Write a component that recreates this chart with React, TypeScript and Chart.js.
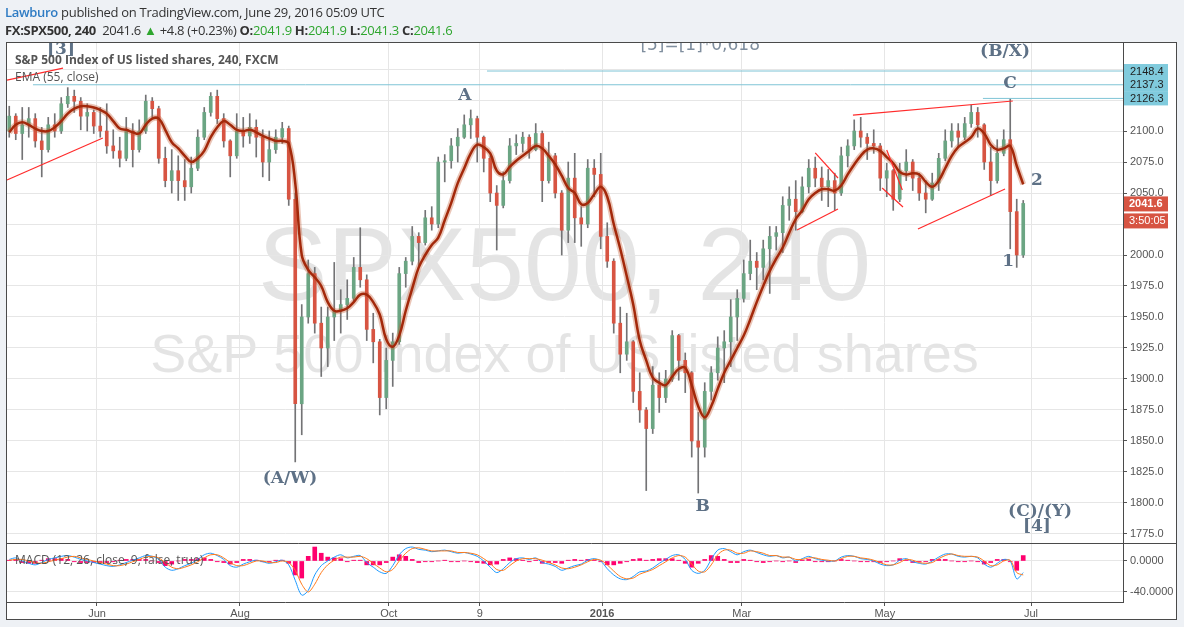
import React, { useEffect, useRef } from "react";
import { Chart, registerables } from "chart.js";
Chart.register(...registerables);

// ---- data: 2-trading-day candles, FX:SPX500 (Apr 2015 - Jun 29 2016) ----
const opens = [
  2100,2112,2098,2105,2110,2092,2085,2105,2100,2122, 2128,2124,2112,2115,2104,2100,2088,2084,2078,2100,
  2085,2100,2124,2118,2078,2060,2068,2060,2055,2070, 2095,2115,2128,2110,2092,2080,2100,2096,2103,2095,
  2075,2085,2095,2102,2045,1880,1950,1985,1945,1925, 1950,1955,1960,1965,1990,1980,1940,1930,1885,1915,
  1930,1985,1995,2015,2010,2030,2025,2075,2076,2088, 2095,2105,2110,2095,2078,2050,2040,2060,2088,2090,
  2095,2085,2098,2060,2080,2050,2020,2062,2030,2025, 2070,2065,2015,1995,1945,1920,1930,1890,1875,1860,
  1895,1885,1900,1935,1915,1905,1850,1845,1890,1905, 1925,1930,1950,1965,1985,1995,1990,2005,2015,2018,
  2040,2045,2035,2055,2070,2062,2055,2060,2050,2080, 2088,2100,2095,2090,2088,2062,2068,2045,2068,2075,
  2062,2050,2045,2058,2078,2092,2100,2095,2106,2115, 2105,2075,2060,2082,2093,2035,2000,
];
const highs = [
  2120,2114,2119,2119,2114,2103,2111,2114,2127,2135, 2133,2127,2122,2117,2119,2122,2101,2095,2111,2106,
  2109,2129,2127,2120,2087,2085,2080,2077,2079,2101, 2119,2131,2133,2114,2093,2114,2111,2114,2109,2101,
  2100,2101,2107,2104,2050,1960,1996,1990,1958,1958, 1994,1972,1980,1998,2022,1984,1953,1932,1925,1937,
  1990,1998,2023,2018,2036,2039,2079,2081,2094,2102, 2113,2117,2112,2096,2080,2056,2067,2094,2097,2099,
  2097,2106,2100,2091,2082,2052,2075,2082,2039,2077, 2077,2082,2026,1997,1958,1953,1931,1905,1877,1910,
  1905,1907,1939,1936,1921,1906,1873,1897,1910,1934, 1939,1964,1972,1996,2012,2002,2012,2023,2023,2047,
  2055,2060,2063,2077,2079,2071,2069,2066,2087,2093, 2109,2111,2098,2101,2090,2074,2069,2074,2085,2077,
  2066,2060,2066,2082,2101,2106,2106,2111,2121,2119, 2106,2087,2093,2101,2126,2045,2044,
];
const lows = [
  2095,2093,2077,2095,2087,2063,2083,2095,2098,2119, 2115,2101,2100,2098,2095,2082,2078,2071,2076,2071,
  2083,2098,2111,2074,2055,2050,2044,2044,2050,2068, 2093,2112,2106,2087,2063,2078,2087,2090,2079,2063,
  2060,2082,2090,2040,1833,1855,1945,1937,1902,1910, 1931,1937,1948,1962,1974,1931,1913,1871,1876,1894,
  1928,1974,1992,1990,2008,2020,2022,2059,2070,2075, 2094,2094,2075,2067,2043,2004,2038,2058,2081,2083,
  2078,2084,2043,2058,2046,2000,2010,2010,2007,2022, 2047,2005,1990,1937,1905,1915,1881,1865,1810,1856,
  1873,1881,1898,1899,1889,1837,1808,1837,1883,1899, 1897,1910,1931,1962,1980,1972,1980,1969,2004,2002,
  2028,2020,2034,2050,2055,2044,2039,2036,2048,2071, 2085,2087,2077,2082,2052,2047,2036,2043,2060,2052,
  2044,2034,2044,2052,2076,2087,2087,2093,2103,2095, 2069,2048,2058,2080,2005,1990,1998,
];
const closes = [
  2112,2098,2105,2110,2092,2085,2105,2100,2122,2128, 2124,2112,2115,2104,2100,2088,2084,2078,2100,2085,
  2100,2124,2118,2078,2060,2068,2060,2055,2070,2095, 2115,2128,2110,2092,2080,2100,2096,2103,2095,2075,
  2085,2095,2102,2045,1880,1950,1985,1945,1925,1950, 1955,1960,1965,1990,1980,1940,1930,1885,1915,1930,
  1985,1995,2015,2010,2030,2025,2075,2076,2088,2095, 2105,2110,2095,2078,2050,2040,2060,2088,2090,2095,
  2085,2098,2060,2080,2050,2020,2062,2030,2025,2070, 2065,2015,1995,1945,1920,1930,1890,1875,1860,1895,
  1885,1900,1935,1915,1905,1850,1845,1890,1905,1925, 1930,1950,1965,1985,1995,1990,2005,2015,2018,2040,
  2045,2035,2055,2070,2062,2055,2060,2050,2080,2088, 2100,2095,2090,2088,2062,2068,2045,2068,2075,2062,
  2050,2045,2058,2078,2092,2100,2095,2106,2115,2105, 2075,2060,2082,2093,2035,2000,2041.6,
];
const ema55 = [
  2099,2105,2107,2105,2102,2100,2100,2103,2108,2114, 2118,2120,2120,2119,2117,2114,2108,2102,2101,2099,
  2098,2105,2110,2110,2101,2091,2086,2080,2075,2078, 2084,2095,2103,2108,2105,2101,2100,2101,2099,2096,
  2094,2092,2092,2090,2058,2000,1988,1982,1975,1962, 1955,1955,1957,1962,1968,1968,1962,1952,1932,1926,
  1935,1955,1973,1990,2000,2008,2014,2028,2042,2058, 2070,2082,2089,2087,2082,2068,2065,2071,2076,2080,
  2084,2088,2086,2080,2073,2064,2054,2050,2041,2042, 2049,2055,2047,2025,2005,1983,1960,1931,1915,1901,
  1897,1895,1902,1908,1909,1895,1878,1869,1878,1892, 1905,1915,1925,1935,1948,1962,1975,1987,1997,2006,
  2018,2029,2036,2045,2050,2053,2053,2052,2056,2065, 2073,2080,2085,2086,2084,2079,2074,2067,2065,2066,
  2065,2059,2055,2060,2070,2080,2087,2091,2095,2102, 2098,2089,2085,2086,2088,2072,2057,
];
const macdLine = [
  2,4,0,-3,-5,-2,2,4,6,7, 5,2,0,-2,-4,-6,-7,-5,-2,1, 4,7,6,2,-8,-12,-10,-6,-3,2,
  8,10,7,2,-6,-8,-4,-1,1,-1, -3,-1,1,-5,-25,-44,-38,-18,-6,0, 5,8,4,6,7,-2,-8,-14,-16,-6,
  8,16,18,15,14,12,13,14,12,10, 11,9,6,0,-8,-15,-10,-2,3,4, 2,4,-2,-4,-7,-12,-9,-6,-4,1,
  3,0,-10,-18,-23,-24,-20,-14,-13,-9, -3,2,7,8,2,-12,-16,-12,2,14, 16,12,8,12,14,11,8,6,7,4,
  5,0,3,6,3,1,0,0,5,7, 6,3,2,0,-4,-6,-5,1,3,-1, -3,-4,0,5,9,9,6,5,6,4, -4,-8,-3,2,0,-23,-15,
];
const signalLine = [
  1,2,2,0,-2,-3,-1,1,3,5, 6,4,2,0,-2,-4,-6,-6,-4,-1, 2,5,6,4,-2,-8,-10,-8,-5,-1,
  4,8,8,4,-2,-6,-6,-3,0,0, -2,-2,0,-2,-12,-30,-40,-30,-15,-5, 1,5,5,5,6,3,-3,-9,-14,-11,
  0,10,16,17,15,13,13,13,13,11, 11,10,8,3,-3,-11,-12,-6,0,3, 3,3,1,-2,-5,-9,-10,-8,-5,-1,
  2,1,-5,-13,-20,-23,-22,-17,-14,-11, -6,-1,4,7,5,-4,-13,-14,-5,8, 14,14,10,10,13,12,10,7,7,5,
  5,2,2,4,4,2,1,0,3,6, 6,4,3,1,-2,-5,-5,-2,2,1, -2,-3,-2,3,7,9,7,6,6,5, 0,-6,-5,0,1,-15,-18,
];
const macdHist = [
  1,2,-2,-3,-3,1,3,3,3,2, -1,-2,-2,-2,-2,-2,-1,1,2,2, 2,2,0,-2,-6,-4,0,2,2,3,
  4,2,-1,-2,-4,-2,2,2,1,-1, -1,1,1,-3,-18,-22,6,18,10,5, 4,3,-1,1,1,-5,-5,-5,-2,5,
  8,6,2,-2,-1,-1,0,1,-1,-1, 0,-1,-2,-3,-5,-4,2,4,3,1, -1,1,-3,-2,-2,-3,1,2,1,2,
  1,-1,-5,-5,-3,-1,2,3,1,2, 3,3,3,1,-3,-8,-3,2,7,6, 2,-2,-2,2,1,-1,-2,-1,0,-1,
  0,-2,1,2,-1,-1,-1,0,2,1, 0,-1,-1,-1,-2,-1,0,3,1,-2, -1,-1,2,2,2,0,-1,-1,0,-1, -4,-2,2,2,-1,-12,7,
];

// time axis tick labels (positions in candle-index units)
const monthTickPos = [13.5, 35.5, 58.4, 72.4, 91.2, 112.7, 134.7, 157.2];
const monthTickLabels = ["Jun", "Aug", "Oct", "9", "2016", "Mar", "May", "Jul"];
const priceTicks = [1775,1800,1825,1850,1875,1900,1925,1950,1975,2000,2025,2050,2075,2100,2125,2150];
const macdTicks = [0, -40];

// drawings
const levelPrices = [2148.4, 2137.3, 2126.3];
const levelStartIdx = [73.5, 3.65, 149.8];
const lastPrice = 2041.6;
const trendLines = [
  [-0.35, 2060.5, 14.4, 2094.4],
  [-0.35, 2141, 8.27, 2150.8],
  [129.8, 2112.9, 154.4, 2124.2],
  [139.8, 2021, 153.2, 2053.2],
  [121.2, 2020.2, 127.5, 2037.1],
  [124.0, 2082.3, 127.5, 2062.1],
  [134.3, 2054, 137.5, 2038.7],
  [135.0, 2084.7, 137.4, 2052.4],
];
const waveTexts = ["[3]", "A", "(A/W)", "B", "C", "(B/X)", "1", "2", "(C)/(Y)", "[4]"];
const waveIdx = [7.96, 70.1, 43.2, 106.7, 153.96, 153.2, 153.7, 158.1, 158.6, 158.1];
const wavePrice = [2165.3, 2128.2, 1819.4, 1796.8, 2137.9, 2163.7, 1994.4, 2059.7, 1792.7, 1780.6];
const noteText = "[5]=[1]*0,618";
const noteIdx = 106.3;
const notePrice = 2168.6;

const X_MIN = -0.5;
const X_MAX = 171.35;

const idx = closes.map((_, i) => i);

const decor = {
  id: "tvDecor",
  beforeDraw(chart: any) {
    const { ctx, chartArea: a, scales } = chart;
    const outerRight = scales.y.right;
    const outerBottom = scales.x.bottom;
    ctx.save();
    ctx.fillStyle = "#eef1f5";
    ctx.fillRect(0, 0, chart.width, chart.height);
    ctx.fillStyle = "#ffffff";
    ctx.fillRect(a.left, a.top - 1, outerRight - a.left, outerBottom - a.top + 1);
    // watermark
    ctx.beginPath();
    ctx.rect(a.left, a.top, a.right - a.left, scales.y.bottom - a.top);
    ctx.clip();
    ctx.fillStyle = "rgba(0,0,0,0.105)";
    ctx.textAlign = "center";
    ctx.textBaseline = "alphabetic";
    const cx = (a.left + a.right) / 2;
    ctx.font = '104px "Liberation Sans", Arial, sans-serif';
    ctx.fillText("SPX500, 240", cx, a.top + 257);
    ctx.font = '54px "Liberation Sans", Arial, sans-serif';
    ctx.fillText("S&P 500 Index of US listed shares", cx, a.top + 329);
    ctx.restore();
  },
  afterDatasetsDraw(chart: any) {
    const { ctx, chartArea: a, scales } = chart;
    const xs = scales.x, ys = scales.y;
    ctx.save();
    ctx.beginPath();
    ctx.rect(a.left, a.top, a.right - a.left, ys.bottom - a.top);
    ctx.clip();
    // note text (clipped at top)
    ctx.fillStyle = "#7f8e9e";
    ctx.font = '17px "DejaVu Sans", sans-serif';
    ctx.textAlign = "center";
    ctx.textBaseline = "middle";
    ctx.fillText(noteText, xs.getPixelForValue(noteIdx), ys.getPixelForValue(notePrice));
    // wave labels
    ctx.fillStyle = "#5e7186";
    ctx.font = 'bold 17px "DejaVu Serif", serif';
    waveTexts.forEach((t, k) => {
      ctx.fillText(t, xs.getPixelForValue(waveIdx[k]), ys.getPixelForValue(wavePrice[k]));
    });
    // legends
    ctx.textAlign = "left";
    ctx.fillStyle = "#555";
    ctx.font = 'bold 12px "Open Sans", sans-serif';
    ctx.fillText("S&P 500 Index of US listed shares, 240, FXCM", a.left + 9, a.top + 18);
    ctx.font = '12px "Open Sans", sans-serif';
    ctx.fillText("EMA (55, close)", a.left + 9, a.top + 35);
    ctx.restore();
    ctx.save();
    ctx.fillStyle = "#555";
    ctx.font = '12px "Open Sans", sans-serif';
    ctx.textBaseline = "middle";
    ctx.fillText("MACD (12, 26, close, 9, false, true)", a.left + 9, scales.y2.getPixelForValue(0));
    ctx.restore();
  },
  afterDraw(chart: any) {
    const { ctx, chartArea: a, scales } = chart;
    const outerRight = scales.y.right;
    const outerBottom = scales.x.bottom;
    const ys = scales.y;
    ctx.save();
    ctx.strokeStyle = "#4a4a4a";
    ctx.lineWidth = 1;
    // pane divider
    const dy = Math.round(scales.y2.top) + 0.5;
    ctx.beginPath();
    ctx.moveTo(a.left, dy);
    ctx.lineTo(outerRight, dy);
    ctx.stroke();
    // frame
    ctx.strokeRect(a.left + 0.5, a.top - 0.5, outerRight - a.left - 1, outerBottom - a.top);
    // level boxes
    ctx.font = '11px "Liberation Sans", Arial, sans-serif';
    ctx.textBaseline = "middle";
    ctx.textAlign = "left";
    levelPrices.forEach((p) => {
      const y = ys.getPixelForValue(p);
      ctx.fillStyle = "#80cbdd";
      ctx.fillRect(a.right + 1, y - 7, 44, 14);
      ctx.fillStyle = "#1f1f1f";
      ctx.fillText(p.toFixed(1), a.right + 7, y + 0.5);
    });
    const ly = ys.getPixelForValue(lastPrice);
    ctx.fillStyle = "#d75442";
    ctx.fillRect(a.right + 1, ly - 7, 44, 15);
    ctx.fillRect(a.right + 1, ly + 10, 44, 15);
    ctx.fillStyle = "#ffffff";
    ctx.font = 'bold 11px "Liberation Sans", Arial, sans-serif';
    ctx.fillText(lastPrice.toFixed(1), a.right + 6, ly + 1);
    ctx.font = '11px "Liberation Sans", Arial, sans-serif';
    ctx.fillText("3:50:05", a.right + 6, ly + 18);
    ctx.restore();
  },
};

export default function App() {
  const ref = useRef<HTMLCanvasElement>(null);
  useEffect(() => {
    const canvas = ref.current;
    if (!canvas) return;
    const gridColor = "#e6e6e6";
    const tickFont = { family: '"Liberation Sans", Arial, sans-serif', size: 11 };
    const datasets: any[] = [
      {
        type: "bar", label: "wick", yAxisID: "y",
        data: idx.map((i) => ({ x: i, y: [lows[i], highs[i]] })),
        backgroundColor: "#737375", barThickness: 1, grouped: false, order: 20,
      },
      {
        type: "bar", label: "body", yAxisID: "y",
        data: idx.map((i) => ({ x: i, y: [opens[i], closes[i]] })),
        backgroundColor: (c: any) => (closes[c.dataIndex] >= opens[c.dataIndex] ? "#6ba583" : "#d75442"),
        barThickness: 3, grouped: false, minBarLength: 1, order: 19,
      },
      {
        type: "line", label: "emaGlow", yAxisID: "y",
        data: idx.map((i) => ({ x: i, y: ema55[i] })),
        borderColor: "rgba(196,90,50,0.35)", borderWidth: 6, pointRadius: 0, tension: 0.4, order: 18,
      },
      {
        type: "line", label: "ema", yAxisID: "y",
        data: idx.map((i) => ({ x: i, y: ema55[i] })),
        borderColor: "#a3290b", borderWidth: 2.5, pointRadius: 0, tension: 0.4, order: 17,
      },
      ...trendLines.map((t, k) => ({
        type: "line", label: "tl" + k, yAxisID: "y",
        data: [{ x: t[0], y: t[1] }, { x: t[2], y: t[3] }],
        borderColor: "#ff2b2b", borderWidth: 1.2, pointRadius: 0, order: 10,
      })),
      ...levelPrices.map((p, k) => ({
        type: "line", label: "lvl" + k, yAxisID: "y",
        data: [{ x: levelStartIdx[k], y: p }, { x: X_MAX, y: p }],
        borderColor: "#7fc4d6", borderWidth: 1, pointRadius: 0, order: 11,
      })),
      {
        type: "bar", label: "hist", yAxisID: "y2",
        data: idx.map((i) => ({ x: i, y: macdHist[i] })),
        backgroundColor: "#ff006e", barThickness: 4, grouped: false, order: 9,
      },
      {
        type: "line", label: "macd", yAxisID: "y2",
        data: idx.map((i) => ({ x: i, y: macdLine[i] })),
        borderColor: "#1e9bff", borderWidth: 1, pointRadius: 0, tension: 0.3, order: 8,
      },
      {
        type: "line", label: "signal", yAxisID: "y2",
        data: idx.map((i) => ({ x: i, y: signalLine[i] })),
        borderColor: "#ff7a1a", borderWidth: 1, pointRadius: 0, tension: 0.3, order: 7,
      },
    ];
    const chart = new Chart(canvas, {
      type: "bar",
      data: { datasets },
      plugins: [decor],
      options: {
        animation: false,
        responsive: false,
        devicePixelRatio: 1,
        layout: { padding: { left: 6, top: 43, right: 7, bottom: 7 } },
        plugins: { legend: { display: false }, tooltip: { enabled: false } },
        scales: {
          x: {
            type: "linear", position: "bottom", min: X_MIN, max: X_MAX, offset: false,
            afterBuildTicks: (s: any) => { s.ticks = monthTickPos.map((v) => ({ value: v })); },
            afterFit: (s: any) => { s.height = 18; },
            ticks: {
              autoSkip: false, maxRotation: 0, padding: 1, color: "#555",
              font: (c: any) => ({ ...tickFont, weight: c.tick && c.tick.label === "2016" ? "bold" : "normal" }),
              callback: (_v: any, k: number) => monthTickLabels[k],
            },
            grid: { color: gridColor, tickColor: "#555", tickLength: 4, offset: false },
            border: { color: "#4a4a4a" },
          },
          y: {
            type: "linear", position: "right", stack: "panes", stackWeight: 500,
            min: 1767.7, max: 2171,
            afterBuildTicks: (s: any) => { s.ticks = priceTicks.map((v) => ({ value: v })); },
            afterFit: (s: any) => { s.width = 54; },
            ticks: {
              color: "#555", font: tickFont, padding: 3,
              callback: (v: any) => (v > 2100 ? "" : Number(v).toFixed(1)),
            },
            grid: { color: gridColor, tickColor: "#555", tickLength: 4 },
            border: { color: "#4a4a4a" },
          },
          y2: {
            type: "linear", position: "right", stack: "panes", stackWeight: 59,
            min: -52.9, max: 23.2,
            afterBuildTicks: (s: any) => { s.ticks = macdTicks.map((v) => ({ value: v })); },
            afterFit: (s: any) => { s.width = 54; },
            ticks: { color: "#555", font: tickFont, padding: 3, callback: (v: any) => Number(v).toFixed(4) },
            grid: { color: gridColor, tickColor: "#555", tickLength: 4 },
            border: { color: "#4a4a4a" },
          },
        },
      } as any,
    } as any);
    return () => chart.destroy();
  }, []);

  const hdr: React.CSSProperties = {
    position: "absolute", left: 5, whiteSpace: "nowrap",
    fontFamily: '"Open Sans", sans-serif', fontSize: 13, color: "#333", lineHeight: "18px",
  };
  const g: React.CSSProperties = { color: "#2ea62e" };
  return (
    <div style={{ position: "absolute", left: 0, top: 0, width: 1184, height: 627, overflow: "hidden", background: "#eef1f5" }}>
      <canvas ref={ref} width={1184} height={627} style={{ position: "absolute", left: 0, top: 0 }} />
      <div style={{ ...hdr, top: 3, letterSpacing: -0.3 }}>
        <span style={{ color: "#2f7cc4", fontWeight: 600 }}>Lawburo</span> published on TradingView.com, June 29, 2016 05:09 UTC
      </div>
      <div style={{ ...hdr, top: 21, letterSpacing: -0.3 }}>
        <b>FX:SPX500, 240</b>&nbsp; 2041.6 <span style={g}>▲</span> +4.8 (+0.23%) <b>O:</b><span style={g}>2041.9</span> <b>H:</b><span style={g}>2041.9</span> <b>L:</b><span style={g}>2041.3</span> <b>C:</b><span style={g}>2041.6</span>
      </div>
    </div>
  );
}
